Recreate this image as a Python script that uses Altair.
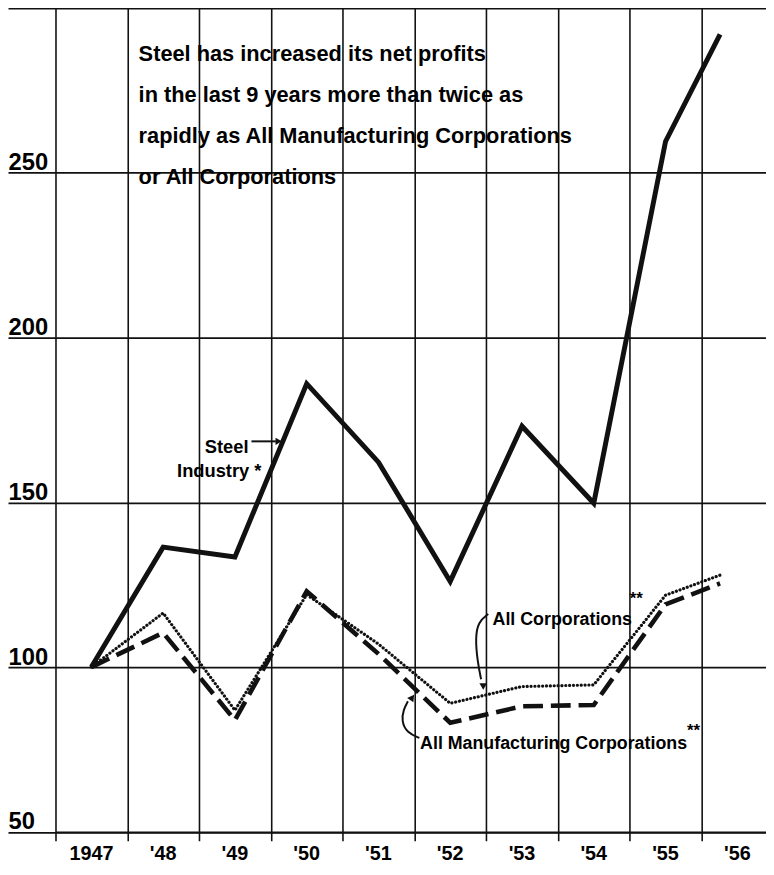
import altair as alt
import pandas as pd

# ---------------- data ----------------
years = [1947, 1948, 1949, 1950, 1951, 1952, 1953, 1954, 1955, 1956]
# horizontal place of each year's point (the 1956 point stops short of its label)
plot_x = [1947, 1948, 1949, 1950, 1951, 1952, 1953, 1954, 1955, 1955.76]
steel = [100, 136.4, 133.4, 186, 162.2, 126, 173.1, 149.7, 259.5, 292]
all_corp = [100, 116.4, 86.9, 122, 107, 89, 94.1, 94.6, 121.8, 127.9]
all_mfg = [100, 110.4, 83.9, 123, 104, 83.1, 88.1, 88.5, 119, 125.4]
year_labels = ["1947", "'48", "'49", "'50", "'51", "'52", "'53", "'54", "'55", "'56"]
grid_x = [1946.5, 1947.5, 1948.5, 1949.5, 1950.5, 1951.5, 1952.5, 1953.5, 1954.5, 1955.5]
y_ticks = [50, 100, 150, 200, 250, 300]
title_lines = [
    "Steel has increased its net profits",
    "in the last 9 years more than twice as",
    "rapidly as All Manufacturing Corporations",
    "or All Corporations",
]

# annotation texts (data coordinates)
right_txt = ["Steel", "Industry *"]
right_x = [1949.19, 1949.37]
right_y = [165.0, 157.8]
left_txt = ["All Corporations", "All Manufacturing Corporations"]
left_x = [1952.59, 1951.58]
left_y = [112.8, 75.2]
star_x = [1954.50, 1955.30]
star_y = [119.0, 79.0]

# arrows (data coordinates)
steel_arrow_x = [1949.23, 1949.57]
steel_arrow_y = [168.5, 168.5]
corp_curve_x = [1952.53, 1952.39, 1952.35, 1952.38, 1952.43]
corp_curve_y = [116.1, 113.7, 108.9, 101.7, 96.3]
mfg_curve_x = [1951.57, 1951.40, 1951.32, 1951.35, 1951.41]
mfg_curve_y = [78.5, 80.0, 83.6, 87.2, 89.6]
head_x = [1949.61, 1952.46, 1951.47]
head_y = [168.5, 94.1, 90.8]

FONT = "Liberation Sans, Arial, sans-serif"
INK = "#111111"

df = pd.DataFrame({"x": plot_x, "steel": steel, "corp": all_corp, "mfg": all_mfg})
xs = alt.Scale(domain=[1946.5, 1956.4], nice=False, zero=False)
ys = alt.Scale(domain=[50, 300], nice=False, zero=False)

x_axis = alt.Axis(values=grid_x, grid=True, gridColor=INK, gridWidth=1.6, gridOpacity=1,
                  ticks=True, tickSize=9, tickColor=INK, tickWidth=1.6,
                  labels=False, domain=True, domainColor=INK, domainWidth=1.8, title=None)
y_axis = alt.Axis(values=y_ticks, grid=True, gridColor=INK, gridWidth=1.8, gridOpacity=1,
                  ticks=True, tickSize=48, tickColor=INK, tickWidth=1.8,
                  labelAlign="left", labelBaseline="alphabetic", labelPadding=0,
                  labelOffset=-3, labelFont=FONT, labelFontSize=24, labelFontWeight="bold",
                  labelColor="#000000", labelOverlap=False, domain=False, title=None)


def X(field):
    return alt.X(field, scale=xs, axis=x_axis)


def Y(field):
    return alt.Y(field, scale=ys, axis=y_axis)


steel_line = alt.Chart(df).mark_line(color=INK, strokeWidth=5, strokeJoin="miter").encode(
    x=X("x:Q"), y=Y("steel:Q"))
corp_line = alt.Chart(df).mark_line(color=INK, strokeWidth=3.2, strokeDash=[0.1, 3.8],
                                    strokeCap="round").encode(x=X("x:Q"), y=Y("corp:Q"))
mfg_line = alt.Chart(df).mark_line(color=INK, strokeWidth=4.6, strokeDash=[20, 8]).encode(
    x=X("x:Q"), y=Y("mfg:Q"))

lab_df = pd.DataFrame({"year": years, "label": year_labels})
year_text = alt.Chart(lab_df).mark_text(font=FONT, fontSize=20, fontWeight="bold",
                                        color="#000000", baseline="alphabetic").encode(
    x=X("year:Q"), y=alt.value(861), text="label:N")

title_df = pd.DataFrame({"t": ["\n".join(title_lines)]})
title = alt.Chart(title_df).mark_text(font=FONT, fontSize=22, fontWeight="bold", color="#000000",
                                      align="left", baseline="alphabetic", lineBreak="\n",
                                      lineHeight=41.5).encode(
    x=alt.value(84), y=alt.value(53.5), text="t:N")

r_df = pd.DataFrame({"t": right_txt, "x": right_x, "y": right_y})
r_text = alt.Chart(r_df).mark_text(font=FONT, fontSize=18.5, fontWeight="bold", color="#000000",
                                   align="right", baseline="alphabetic").encode(
    x=X("x:Q"), y=Y("y:Q"), text="t:N")
l_df = pd.DataFrame({"t": left_txt, "x": left_x, "y": left_y})
l_text = alt.Chart(l_df).mark_text(font=FONT, fontSize=18, fontWeight="bold", color="#000000",
                                   align="left", baseline="alphabetic").encode(
    x=X("x:Q"), y=Y("y:Q"), text="t:N")
s_df = pd.DataFrame({"t": ["**", "**"], "x": star_x, "y": star_y})
s_text = alt.Chart(s_df).mark_text(font=FONT, fontSize=17, fontWeight="bold", color="#000000",
                                   align="left", baseline="alphabetic").encode(
    x=X("x:Q"), y=Y("y:Q"), text="t:N")

sa_df = pd.DataFrame({"x": steel_arrow_x, "y": steel_arrow_y})
steel_arrow = alt.Chart(sa_df).mark_line(color=INK, strokeWidth=2).encode(x=X("x:Q"), y=Y("y:Q"))

curve_df = pd.DataFrame({
    "x": corp_curve_x + mfg_curve_x,
    "y": corp_curve_y + mfg_curve_y,
    "g": ["c"] * len(corp_curve_x) + ["m"] * len(mfg_curve_x),
    "i": list(range(len(corp_curve_x))) + list(range(len(mfg_curve_x))),
})
curves = alt.Chart(curve_df).mark_line(color=INK, strokeWidth=2, interpolate="basis").encode(
    x=X("x:Q"), y=Y("y:Q"), detail="g:N", order="i:Q")

h_df = pd.DataFrame({"x": head_x, "y": head_y, "shape": ["right", "down", "up"]})
head_r = alt.Chart(h_df[h_df["shape"] == "right"]).mark_point(
    shape="triangle-right", filled=True, color=INK, opacity=1, size=55).encode(x=X("x:Q"), y=Y("y:Q"))
head_d = alt.Chart(h_df[h_df["shape"] == "down"]).mark_point(
    shape="triangle-down", filled=True, color=INK, opacity=1, size=60).encode(x=X("x:Q"), y=Y("y:Q"))
head_u = alt.Chart(h_df[h_df["shape"] == "up"]).mark_point(
    shape="triangle-up", filled=True, color=INK, opacity=1, size=60, angle=35).encode(x=X("x:Q"), y=Y("y:Q"))

chart = alt.layer(
    steel_line, corp_line, mfg_line, year_text, title, r_text, l_text, s_text,
    steel_arrow, curves, head_r, head_d, head_u,
).properties(
    width=718, height=832.5, autosize="none",
    padding={"left": 48, "top": -4.5, "right": 0, "bottom": 31},
    background="white",
).configure_view(stroke=None)

chart.save("out.html", embed_options={"renderer": "svg", "actions": False})
